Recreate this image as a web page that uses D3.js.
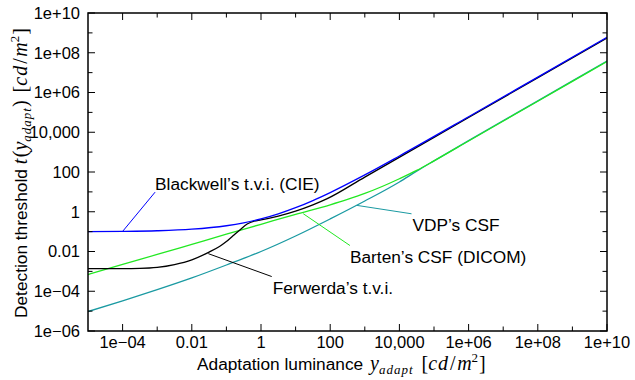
<!DOCTYPE html>
<html>
<head>
<meta charset="utf-8">
<script src="https://cdn.jsdelivr.net/npm/d3@7"></script>
<style>
  html, body { margin: 0; padding: 0; background: #fff; }
  svg { display: block; }
  text { font-family: "Liberation Sans", Arial, Helvetica, sans-serif; fill: #000; }
  .math { font-family: "Liberation Serif", "Times New Roman", serif; }
</style>
</head>
<body>
<svg id="chart" width="635" height="380"></svg>
<script>
// Detection threshold models versus adaptation luminance (cd/m^2)

// Blackwell's t.v.i. (CIE)
const blackwellLum = [1e-5, 1e-4, 1e-3, 1e-2, 0.1, 0.316, 1, 3.16, 10, 31.6, 100, 1e3, 1e4, 1e6, 1e8, 1e10];
const blackwellThr = [0.0995, 0.1025, 0.1105, 0.1323, 0.1976, 0.2765, 0.4357, 0.782, 1.597, 3.664, 9.24, 71.5, 640.6, 6.01e4, 5.96e6, 5.94e8];

// Ferwerda's t.v.i.
const ferwerdaLum = [1e-5, 1e-4, 3.16e-4, 1e-3, 3.16e-3, 1e-2, 3.16e-2, 0.063, 0.1, 0.158, 0.251, 0.398, 0.631, 1, 3.16, 10, 31.6, 79.4, 1e3, 1e6, 1e10];
const ferwerdaThr = [0.00138, 0.00138, 0.00141, 0.00158, 0.00219, 0.0038, 0.00933, 0.0178, 0.0316, 0.0631, 0.126, 0.24, 0.339, 0.389, 0.603, 1.072, 2.213, 4.416, 55.6, 5.56e4, 5.56e8];

// Barten's CSF (DICOM)
const bartenLum = [1e-5, 1e-4, 1e-3, 1e-2, 0.1, 1, 10, 100, 316, 1e3, 3160, 1e4, 3.16e4, 1e5, 1e6, 1e8, 1e10];
const bartenThr = [6.92e-4, 2.24e-3, 7.08e-3, 0.0229, 0.0741, 0.234, 0.741, 2.24, 4.17, 8.32, 18.6, 45.7, 120, 363, 3630, 3.63e5, 3.63e7];

// VDP's CSF
const vdpLum = [1e-5, 1e-4, 1e-3, 1e-2, 0.1, 1, 10, 100, 1e3, 1e4, 3.16e4, 1e5, 1e6, 1e8, 1e10];
const vdpThr = [9.55e-6, 3.31e-5, 1.20e-4, 4.68e-4, 2.09e-3, 0.01, 0.0603, 0.437, 3.47, 31.6, 110, 363, 3800, 3.8e5, 3.8e7];

// Axis ticks
const xMajor = [1e-4, 1e-2, 1, 1e2, 1e4, 1e6, 1e8, 1e10];
const xMajorLabels = ["1e\u221204", "0.01", "1", "100", "10,000", "1e+06", "1e+08", "1e+10"];
const xMinor = [1e-3, 1e-1, 1e1, 1e3, 1e5, 1e7, 1e9];
const yMajor = [1e-6, 1e-4, 1e-2, 1, 1e2, 1e4, 1e6, 1e8, 1e10];
const yMajorLabels = ["1e\u221206", "1e\u221204", "0.01", "1", "100", "10,000", "1e+06", "1e+08", "1e+10"];
const yMinor = [1e-5, 1e-3, 1e-1, 1e1, 1e3, 1e5, 1e7, 1e9];

const series = [
  { name: "VDP\u2019s CSF", lum: vdpLum, thr: vdpThr, color: "#1a9aa2" },
  { name: "Barten\u2019s CSF (DICOM)", lum: bartenLum, thr: bartenThr, color: "#22e822" },
  { name: "Ferwerda\u2019s t.v.i.", lum: ferwerdaLum, thr: ferwerdaThr, color: "#000000" },
  { name: "Blackwell\u2019s t.v.i. (CIE)", lum: blackwellLum, thr: blackwellThr, color: "#0000ff" }
];

// Callouts: point on the curve, and end of the leader where the label sits
const callouts = [
  { series: 3, at: [1e-4, 0.1025], end: [8.7e-4, 9.7], dx: 0, dy: -2 },
  { series: 2, at: [0.03, 0.0078], end: [2.04, 5.5e-4], dx: 1, dy: 17 },
  { series: 1, at: [16.6, 0.8], end: [372, 0.02], dx: 0, dy: 17 },
  { series: 0, at: [589, 2.09], end: [22400, 0.79], dx: 1, dy: 17 }
];

const svg = d3.select("#chart");
const m = { left: 88, right: 607, top: 13, bottom: 331 };

const x = d3.scaleLog().domain([1e-5, 1e10]).range([m.left, m.right]);
const y = d3.scaleLog().domain([1e-6, 1e10]).range([m.bottom, m.top]);

const tickFont = 16.5;
const labelFont = 17.3;

// Curves
const line = d3.line()
  .x(d => x(d[0]))
  .y(d => y(d[1]))
  .curve(d3.curveMonotoneX);

svg.append("clipPath").attr("id", "clip")
  .append("rect").attr("x", m.left).attr("y", m.top)
  .attr("width", m.right - m.left).attr("height", m.bottom - m.top);

svg.append("g").selectAll("path")
  .data(series)
  .join("path")
  .attr("clip-path", "url(#clip)")
  .attr("fill", "none")
  .attr("stroke", d => d.color)
  .attr("stroke-width", 1.3)
  .attr("d", d => line(d.lum.map((l, i) => [l, d.thr[i]])));

// Leader lines and labels
callouts.forEach(c => {
  const s = series[c.series];
  const x0 = x(c.at[0]), y0 = y(c.at[1]);
  const x1 = x(c.end[0]), y1 = y(c.end[1]);
  svg.append("line")
    .attr("x1", x0).attr("y1", y0).attr("x2", x1).attr("y2", y1)
    .attr("stroke", s.color).attr("stroke-width", 1);
  svg.append("text")
    .attr("x", x1 + c.dx).attr("y", y1 + c.dy)
    .attr("font-size", labelFont)
    .text(s.name);
});

// Ticks pointing inwards on all four sides
const ticks = svg.append("g").attr("stroke", "#000").attr("stroke-width", 1);
function xTicks(vals, len) {
  ticks.append("g").selectAll("line").data(vals).join("line")
    .attr("x1", d => x(d)).attr("x2", d => x(d)).attr("y1", m.bottom).attr("y2", m.bottom - len);
  ticks.append("g").selectAll("line").data(vals).join("line")
    .attr("x1", d => x(d)).attr("x2", d => x(d)).attr("y1", m.top).attr("y2", m.top + len);
}
function yTicks(vals, len) {
  ticks.append("g").selectAll("line").data(vals).join("line")
    .attr("y1", d => y(d)).attr("y2", d => y(d)).attr("x1", m.left).attr("x2", m.left + len);
  ticks.append("g").selectAll("line").data(vals).join("line")
    .attr("y1", d => y(d)).attr("y2", d => y(d)).attr("x1", m.right).attr("x2", m.right - len);
}
xTicks(xMajor, 7);
xTicks(xMinor, 4.5);
yTicks(yMajor, 7);
yTicks(yMinor, 4.5);

// Frame
svg.append("rect")
  .attr("x", m.left).attr("y", m.top).attr("width", m.right - m.left).attr("height", m.bottom - m.top)
  .attr("fill", "none").attr("stroke", "#000").attr("stroke-width", 1.5);

// Tick labels
svg.append("g").selectAll("text").data(xMajor).join("text")
  .attr("x", d => x(d)).attr("y", m.bottom + 17)
  .attr("text-anchor", "middle").attr("font-size", tickFont)
  .text((d, i) => xMajorLabels[i]);

svg.append("g").selectAll("text").data(yMajor).join("text")
  .attr("x", m.left - 8).attr("y", d => y(d)).attr("dy", "0.35em")
  .attr("text-anchor", "end").attr("font-size", tickFont)
  .text((d, i) => yMajorLabels[i]);

// Axis titles with math notation
function mathTitle(t, lead, withFn) {
  const big = 20, sub = 13, sup = 13;
  const mt = (txt, size, italic) => t.append("tspan").attr("class", "math")
    .attr("font-size", size).attr("font-style", italic ? "italic" : "normal").text(txt);
  t.append("tspan").text(lead);
  if (withFn) {
    mt("t", big, true);
    mt("(", big, false).attr("dx", 1.5);
  }
  mt("y", big, true).attr("dx", withFn ? 0 : 2);
  mt("adapt", sub, true).attr("letter-spacing", 1).attr("dy", 4);
  if (withFn) {
    mt(")", big, false).attr("dy", -4);
    mt("[", big, false).attr("dx", 8);
  } else {
    mt("[", big, false).attr("dy", -4).attr("dx", 8);
  }
  mt("cd", big, true).attr("letter-spacing", 1);
  mt("/", big, false).attr("dx", 1);
  mt("m", big, true).attr("dx", 1.5);
  mt("2", sup, false).attr("dy", -8);
  mt("]", big, false).attr("dy", 8).attr("dx", 1);
}

svg.append("text")
  .attr("x", 197).attr("y", 370)
  .attr("font-size", labelFont)
  .call(t => mathTitle(t, "Adaptation luminance ", false));

svg.append("text")
  .attr("transform", "translate(27,318) rotate(-90)")
  .attr("font-size", labelFont)
  .call(t => mathTitle(t, "Detection threshold ", true));
</script>
</body>
</html>
